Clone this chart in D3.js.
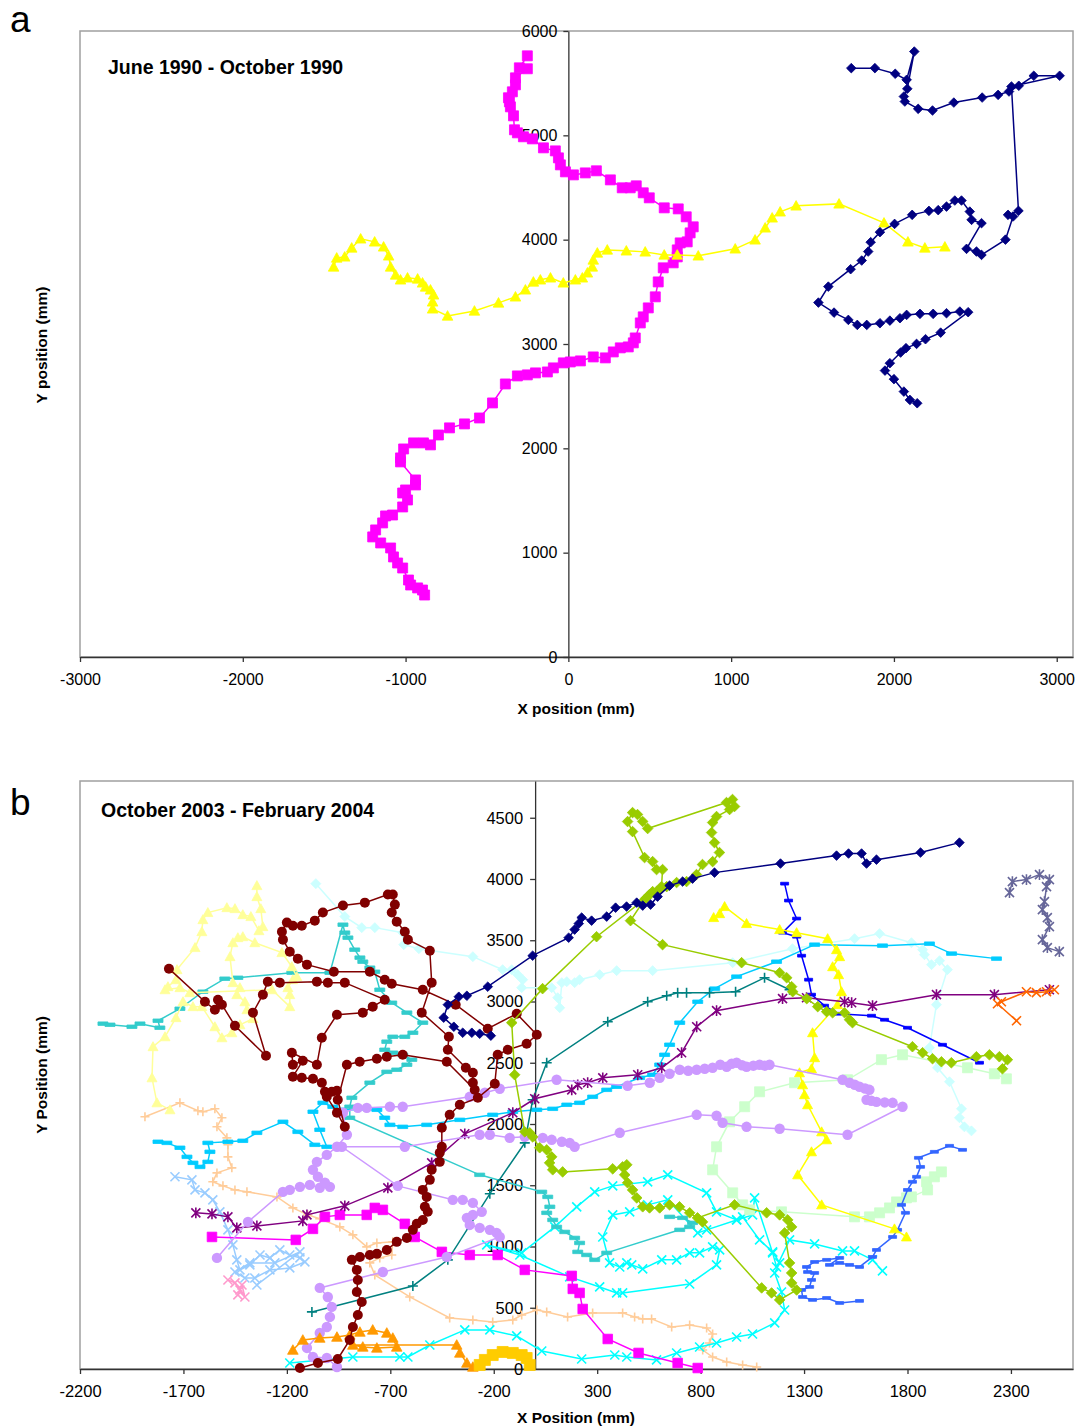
<!DOCTYPE html>
<html>
<head>
<meta charset="utf-8">
<script src="https://cdn.jsdelivr.net/npm/d3@7.9.0/dist/d3.min.js"></script>
<style>
  body { margin: 0; background: #fff; font-family: "Liberation Sans", Arial, sans-serif; }
</style>
</head>
<body>
<svg id="chart" width="1080" height="1428"></svg>
<script>
// ---- panel a: June 1990 - October 1990 ----
const xTicksA = [-3000, -2000, -1000, 0, 1000, 2000, 3000];
const yTicksA = [0, 1000, 2000, 3000, 4000, 5000, 6000];

const aMagenta = [[-252,5762],[-301,5647],[-252,5638],[-325,5551],[-325,5484],[-344,5417],[-368,5360],[-362,5321],[-356,5273],[-337,5187],[-331,5053],[-313,5024],[-276,4986],[-221,4966],[-153,4880],[-80,4851],[-61,4784],[-49,4717],[-18,4650],[31,4621],[104,4640],[172,4660],[258,4573],[331,4497],[380,4497],[417,4516],[460,4449],[497,4401],[589,4305],[675,4295],[724,4219],[767,4123],[748,4065],[730,3979],[687,3969],[669,3902],[669,3835],[644,3778],[583,3730],[552,3595],[534,3452],[491,3346],[460,3260],[442,3202],[411,3058],[399,3011],[368,2972],[319,2963],[276,2924],[227,2867],[153,2876],[74,2838],[12,2828],[-31,2819],[-92,2771],[-129,2732],[-202,2723],[-252,2704],[-313,2694],[-387,2617],[-466,2435],[-546,2291],[-638,2234],[-730,2196],[-798,2128],[-847,2033],[-890,2052],[-951,2052],[-1012,1994],[-1031,1908],[-1031,1870],[-939,1697],[-939,1649],[-1000,1601],[-1018,1572],[-988,1505],[-1018,1438],[-1080,1361],[-1123,1352],[-1141,1285],[-1184,1218],[-1202,1151],[-1153,1093],[-1092,1045],[-1074,959],[-1049,901],[-1018,853],[-982,738],[-969,690],[-926,662],[-896,642],[-883,594]];

const aYellow = [[-1442,3739],[-1423,3825],[-1374,3835],[-1331,3921],[-1276,4008],[-1190,3979],[-1135,3931],[-1104,3845],[-1092,3739],[-1061,3662],[-1031,3615],[-988,3634],[-926,3624],[-896,3586],[-877,3547],[-847,3519],[-828,3471],[-834,3404],[-834,3337],[-742,3269],[-577,3317],[-429,3394],[-325,3452],[-264,3519],[-215,3595],[-172,3615],[-110,3634],[-31,3586],[43,3615],[86,3634],[117,3682],[147,3739],[153,3806],[178,3873],[239,3902],[356,3893],[472,3883],[589,3854],[669,3854],[798,3845],[1025,3912],[1147,3998],[1209,4113],[1252,4209],[1301,4267],[1399,4324],[1663,4343],[1939,4161],[2086,3979],[2190,3921],[2313,3931]];

const aNavy = [[1738,5644],[1883,5644],[2008,5590],[2078,5532],[2125,5803],[2082,5446],[2061,5372],[2067,5324],[2149,5254],[2237,5238],[2368,5314],[2542,5362],[2640,5388],[2707,5420],[2767,5475],[2859,5571],[3018,5571],[2722,5468],[2765,4276],[2701,4238],[2732,4222],[2685,4000],[2538,3854],[2507,3886],[2446,3912],[2538,4158],[2477,4190],[2466,4269],[2415,4375],[2374,4375],[2323,4317],[2272,4283],[2215,4276],[2112,4238],[2004,4151],[1914,4072],[1857,3976],[1842,3886],[1802,3800],[1734,3717],[1597,3550],[1536,3397],[1632,3301],[1720,3231],[1775,3183],[1833,3183],[1914,3199],[1975,3224],[2037,3247],[2078,3279],[2160,3289],[2241,3289],[2323,3295],[2405,3311],[2456,3305],[2287,3109],[2194,3046],[2139,3001],[2074,2960],[2041,2918],[1975,2816],[1945,2745],[2000,2663],[2061,2544],[2098,2464],[2143,2432]];

// ---- panel b: October 2003 - February 2004 ----
const xTicksB = [-2200, -1700, -1200, -700, -200, 300, 800, 1300, 1800, 2300];
const yTicksB = [0, 500, 1000, 1500, 2000, 2500, 3000, 3500, 4000, 4500];

const bNavy = [[-214,2721],[-268,2737],[-306,2745],[-350,2745],[-393,2794],[-442,2868],[-422,2974],[-369,3039],[-330,3047],[-229,3121],[-12,3374],[162,3521],[191,3587],[211,3636],[225,3685],[273,3660],[346,3693],[389,3766],[442,3775],[491,3807],[520,3783],[558,3791],[592,3856],[650,3946],[713,3979],[761,4003],[867,4052],[1186,4126],[1457,4191],[1515,4208],[1578,4208],[1602,4126],[1650,4158],[1863,4216],[2051,4297]];

const bYellowGreen = [[2259,2451],[2283,2525],[2244,2549],[2196,2565],[2133,2549],[2012,2500],[1964,2508],[1921,2533],[1873,2582],[1824,2631],[1534,2827],[1520,2851],[1496,2908],[1438,2908],[1409,2917],[1366,2958],[1313,3023],[1245,3080],[1240,3121],[1216,3194],[1182,3235],[998,3317],[616,3464],[461,3660],[529,3832],[553,3873],[587,3897],[611,3938],[616,4077],[587,4077],[568,4142],[529,4175],[471,4387],[447,4469],[471,4542],[495,4526],[520,4469],[544,4412],[925,4624],[954,4649],[964,4592],[940,4567],[877,4510],[858,4461],[853,4379],[867,4297],[891,4216],[858,4142],[809,4118],[780,4036],[732,3979],[684,3971],[636,3938],[602,3913],[568,3897],[539,3848],[297,3529],[36,3105],[-113,2827],[-99,2402],[-50,1936],[-26,1928],[-12,1895],[22,1806],[56,1789],[80,1732],[70,1683],[85,1626],[133,1609],[375,1634],[423,1650],[443,1667],[433,1585],[447,1520],[471,1462],[491,1397],[520,1324],[553,1315],[602,1315],[650,1340],[698,1324],[747,1275],[785,1234],[964,1340],[1119,1275],[1182,1258],[1221,1217],[1240,1160],[1206,1111],[1230,866],[1240,784],[1240,703],[1264,645],[1182,564],[1143,621],[1095,662],[809,1201]];

const bDarkRed = [[-1137,8],[-1050,49],[-954,82],[-896,237],[-881,343],[-857,441],[-838,547],[-862,629],[-857,727],[-862,809],[-886,891],[-847,915],[-799,931],[-765,940],[-717,972],[-669,1038],[-620,1070],[-591,1136],[-572,1185],[-543,1217],[-519,1283],[-533,1324],[-524,1405],[-543,1462],[-509,1544],[-500,1626],[-461,1691],[-461,1765],[-451,1814],[-451,1969],[-413,2075],[-364,2157],[-277,2214],[-195,2328],[-181,2565],[-132,2606],[-41,2655],[8,2729],[-89,2900],[-229,2778],[-384,2974],[-543,3096],[-693,3145],[-727,3178],[-799,3243],[-973,3243],[-1103,3301],[-1147,3350],[-1186,3407],[-1219,3505],[-1224,3570],[-1200,3644],[-1171,3619],[-1128,3619],[-1065,3660],[-1026,3726],[-929,3783],[-823,3807],[-712,3873],[-688,3873],[-678,3791],[-693,3726],[-669,3652],[-630,3570],[-615,3505],[-509,3415],[-500,3154],[-548,2909],[-417,2712],[-422,2606],[-335,2459],[-301,2418],[-301,2337],[-292,2279],[-427,2508],[-640,2565],[-717,2549],[-765,2533],[-848,2508],[-910,2484],[-954,2198],[-920,1977],[-958,2092],[-1007,2222],[-958,2271],[-983,2263],[-1016,2263],[-1031,2337],[-1074,2369],[-1128,2377],[-1171,2386],[-1123,2516],[-1171,2484],[-1176,2582],[-1055,2484],[-1031,2704],[-958,2892],[-833,2909],[-785,2958],[-727,3015],[-920,3154],[-1002,3154],[-1055,3162],[-1234,3154],[-1292,3162],[-1316,3056],[-1364,2909],[-1301,2557],[-1451,2802],[-1514,2974],[-1533,3015],[-1548,2933],[-1596,2998],[-1770,3268]];

const bLightYellow = [[-1765,2116],[-1828,2173],[-1852,2377],[-1847,2631],[-1789,2712],[-1736,2868],[-1702,2998],[-1654,2958],[-1611,2958],[-1548,2794],[-1514,2704],[-1466,2745],[-1427,2810],[-1364,2860],[-1393,2933],[-1403,2998],[-1442,3056],[-1427,3113],[-1461,3154],[-1475,3366],[-1461,3480],[-1437,3521],[-1413,3529],[-1355,3480],[-1224,3399],[-1176,3284],[-1152,3203],[-1171,3178],[-1195,3113],[-1186,3056],[-1186,2958],[-1272,3096],[-1669,3072],[-1717,3113],[-1789,3096],[-1775,3121],[-1736,3178],[-1731,3260],[-1644,3440],[-1611,3570],[-1606,3668],[-1582,3726],[-1490,3766],[-1451,3758],[-1413,3709],[-1374,3693],[-1335,3578],[-1316,3611],[-1326,3758],[-1345,3856],[-1345,3946]];

const bTurquoise = [[-2089,2819],[-2055,2810],[-1949,2794],[-1910,2819],[-1814,2786],[-1823,2843],[-1717,2941],[-1606,3080],[-1500,3186],[-1437,3194],[-1176,3235],[-992,3235],[-929,3627],[-920,3562],[-905,3521],[-872,3423],[-847,3358],[-833,3325],[-799,3276],[-775,3243],[-751,3096],[-693,2990],[-620,2909],[-543,2827],[-591,2745],[-630,2712],[-688,2712],[-717,2672],[-727,2606],[-688,2582],[-640,2565],[-596,2525],[-620,2484],[-669,2443],[-717,2426],[-799,2337],[-886,2214],[-896,2141],[-896,2051],[-268,1585],[32,1446],[61,1405],[71,1324],[56,1275],[85,1217],[104,1160],[143,1119],[191,1070],[215,1029],[206,956],[249,931],[288,891],[346,948],[699,1136],[747,1160],[761,1193],[713,1234],[650,1242]];

const bLightCyan = [[-1060,3962],[-920,3693],[-838,3603],[-775,3603],[-640,3562],[-635,3464],[-562,3431],[-301,3366],[-157,3260],[-113,3260],[-84,3219],[-60,3178],[-65,3113],[80,3113],[109,3031],[119,2949],[129,3154],[153,3162],[191,3154],[215,3178],[312,3219],[394,3252],[568,3252],[955,3317],[1244,3431],[1544,3513],[1665,3554],[1819,3480],[1873,3423],[1882,3382],[1916,3301],[1955,3333],[1993,3260],[1940,2974],[1906,2623],[1945,2459],[2003,2345],[2061,2124],[2051,2051],[2075,1977],[2109,1944]];

const bYellow = [[863,3685],[892,3717],[916,3775],[1022,3636],[1182,3587],[1264,3562],[1414,3513],[1457,3423],[1472,3366],[1438,3284],[1467,3219],[1481,3080],[1462,2974],[1341,2745],[1351,2541],[1336,2451],[1278,2418],[1293,2320],[1302,2239],[1317,2157],[1385,1936],[1409,1871],[1336,1773],[1269,1585],[1385,1340],[1737,1144],[1795,1078]];

const bBlue = [[1206,3962],[1225,3824],[1264,3677],[1196,3562],[1264,3529],[1288,3374],[1322,3178],[1336,3056],[1399,2966],[1462,2900],[1626,2884],[1689,2851],[1800,2786],[1969,2647],[2148,2500]];

const bRoyalBlue = [[2066,1789],[2003,1822],[1930,1773],[1853,1724],[1863,1650],[1844,1569],[1824,1528],[1800,1462],[1771,1340],[1790,1275],[1752,1136],[1728,1078],[1650,972],[1631,915],[1568,833],[1520,850],[1472,866],[1423,850],[1472,907],[1409,891],[1351,874],[1312,833],[1317,792],[1351,784],[1336,727],[1327,670],[1288,645],[1293,588],[1341,564],[1409,580],[1472,539],[1568,556]];

const bPurple = [[-1640,1275],[-1562,1266],[-1485,1242],[-1442,1152],[-1345,1168],[-1123,1209],[-1103,1258],[-920,1332],[-712,1479],[-500,1683],[-340,1920],[-108,2092],[-2,2206],[177,2279],[206,2320],[254,2337],[327,2377],[496,2402],[612,2459],[708,2582],[781,2794],[877,2925],[1196,3023],[1312,3031],[1496,2998],[1530,2990],[1631,2966],[1940,3056],[2220,3056],[2486,3096]];

const bLavender = [[-1538,907],[-1388,1201],[-1219,1446],[-1186,1462],[-1137,1487],[-1089,1503],[-1041,1479],[-992,1487],[-1016,1520],[-1050,1569],[-1074,1626],[-1055,1691],[-1007,1748],[-958,1814],[-910,1912],[-929,2092],[-857,2132],[-814,2132],[-702,2141],[-640,2141],[-316,2222],[-243,2255],[-171,2288],[104,2361],[447,2312],[554,2337],[602,2377],[650,2410],[699,2443],[740,2435],[781,2443],[820,2451],[858,2459],[895,2484],[926,2467],[950,2492],[974,2500],[1000,2480],[1022,2467],[1055,2476],[1085,2484],[1110,2476],[1133,2484],[1486,2361],[1520,2337],[1545,2320],[1568,2304],[1595,2290],[1616,2279],[1602,2198],[1625,2190],[1650,2181],[1690,2176],[1728,2173],[1776,2141],[1510,1912],[1182,1961],[1022,1977],[906,2010],[877,2067],[781,2075],[409,1928],[191,1814],[167,1846],[129,1855],[80,1871],[37,1887],[-50,1895],[-123,1887],[-219,1912],[-268,1912],[-630,1814],[-934,1814],[-664,1495],[-398,1381],[-350,1381],[-301,1356],[-258,1283],[-301,1258],[-330,1234],[-316,1176],[-268,1152],[-219,1136],[-186,1111],[-171,1078],[-427,915],[-736,792],[-1041,662],[-1002,588],[-983,507],[-992,425],[-1007,343],[-1041,294],[-1103,172],[-1074,98],[-1007,90],[-958,16]];

const bMagenta = [[-1562,1078],[-1157,1054],[-1074,1144],[-1016,1242],[-944,1258],[-814,1258],[-775,1315],[-736,1299],[-630,1185],[-582,1078],[-451,956],[-316,931],[-181,931],[-50,809],[177,760],[182,654],[215,621],[230,490],[351,245],[500,131],[689,49],[786,8]];

const bTeal = [[-1079,466],[-591,678],[-422,891],[-219,1430],[-50,1846],[-12,2198],[56,2500],[351,2835],[544,2998],[636,3047],[689,3072],[732,3072],[843,3072],[969,3080],[1109,3194],[1230,3096]];

const bSkyBlue = [[-1823,1855],[-1780,1846],[-1717,1806],[-1683,1732],[-1654,1683],[-1620,1650],[-1582,1691],[-1572,1773],[-1582,1846],[-1485,1855],[-1413,1863],[-1345,1928],[-1219,2018],[-1147,1936],[-1065,1830],[-1007,1814],[-1041,1953],[-1074,2100],[-1026,2173],[-978,2141],[-944,2116],[-765,2116],[-727,2051],[-702,1993],[-640,1977],[-524,1993],[-364,2034],[-205,2075],[-108,2100],[8,2116],[85,2124],[153,2157],[215,2173],[278,2222],[346,2279],[394,2304],[505,2377],[568,2402],[602,2484],[626,2565],[650,2647],[699,2827],[786,2998],[868,3105],[974,3203],[1167,3325],[1351,3464],[1679,3456],[1906,3472],[2013,3391],[2230,3350]];

const bCyan = [[-1186,49],[-881,98],[-654,98],[-615,98],[-509,196],[-340,319],[-219,319],[-89,270],[32,147],[225,82],[385,114],[443,98],[587,74],[684,131],[795,180],[877,212],[974,261],[1051,286],[1158,376],[1206,482],[1191,629],[1158,784],[1182,866],[1148,956],[1085,1054],[1003,1242],[974,1217],[877,1283],[829,1438],[641,1585],[544,1528],[375,1495],[288,1446],[201,1324],[95,1160],[-65,948],[-234,1013],[-74,931],[167,752],[312,670],[394,621],[423,621],[747,694],[877,850],[892,972],[858,997],[795,948],[747,948],[684,891],[612,891],[520,817],[467,850],[443,866],[409,833],[360,866],[327,1078],[375,1258],[457,1283],[544,1340],[641,1381],[786,1111],[829,1136],[974,1217],[1051,1258],[1061,1397],[1148,948],[1167,833],[1230,1054],[1351,1021],[1486,964],[1544,964],[1631,891],[1679,801]];

const bPeach = [[-1886,2059],[-1717,2173],[-1630,2108],[-1606,2100],[-1548,2124],[-1514,2051],[-1538,1977],[-1490,1887],[-1485,1830],[-1485,1732],[-1466,1642],[-1538,1601],[-1558,1528],[-1509,1495],[-1451,1462],[-1393,1446],[-1248,1405],[-1171,1315],[-1099,1258],[-1041,1226],[-944,1160],[-881,1095],[-814,997],[-765,1029],[-688,1038],[-693,931],[-751,907],[-799,866],[-775,768],[-606,588],[-413,417],[-301,400],[-205,384],[-108,400],[-65,441],[8,482],[56,466],[157,425],[278,458],[423,458],[481,425],[520,409],[563,409],[660,343],[747,359],[829,335],[858,286],[843,212],[810,155],[858,98],[926,57],[1003,33],[1071,16]];

const bMint = [[2278,2369],[2220,2410],[2090,2459],[1776,2565],[1674,2525],[1510,2361],[1254,2337],[1085,2263],[1013,2141],[940,2018],[877,1814],[858,1626],[955,1438],[1003,1340],[1037,1299],[1191,1283],[1544,1242],[1616,1242],[1665,1275],[1713,1315],[1747,1364],[1795,1397],[1819,1405],[1897,1462],[1892,1528],[1930,1569],[1964,1609]];

const bOrange = [[-1171,155],[-1123,237],[-1041,253],[-958,261],[-896,278],[-847,302],[-785,319],[-717,294],[-688,253],[-669,180],[-765,172],[-833,180],[-881,196],[-379,196],[-364,131],[-330,49],[-301,16]];

const bGold = [[-268,33],[-243,74],[-205,114],[-157,139],[-108,131],[-65,114],[-41,90],[-26,33]];

const bPaleBlue = [[-1741,1569],[-1659,1544],[-1644,1462],[-1596,1438],[-1558,1381],[-1524,1283],[-1485,1136],[-1461,1013],[-1442,891],[-1427,809],[-1379,850],[-1330,931],[-1282,907],[-1234,972],[-1186,931],[-1137,907],[-1113,874],[-1186,825],[-1282,809],[-1355,743],[-1403,743],[-1451,792],[-1379,866],[-1258,866],[-1137,956],[-1345,686]];

const bPink = [[-1485,727],[-1451,703],[-1427,645],[-1403,588],[-1417,686],[-1437,605]];

const bSlate = [[2293,3889],[2307,3979],[2375,3995],[2438,4036],[2486,3995],[2472,3938],[2462,3815],[2452,3750],[2476,3685],[2486,3611],[2452,3505],[2476,3440],[2534,3407]];

const bOrangeRed = [[2327,2843],[2235,2982],[2254,2998],[2375,3080],[2423,3072],[2472,3080],[2510,3096]];

// ---- drawing ----
const svg = d3.select("#chart");
const fmt = d => String(d);

function markerPath(shape, s) {
  switch (shape) {
    case "square": return `M${-s},${-s}H${s}V${s}H${-s}Z`;
    case "diamond": return `M0,${-s}L${s},0L0,${s}L${-s},0Z`;
    case "triangle": return `M0,${-s}L${s},${s * 0.8}L${-s},${s * 0.8}Z`;
    case "x": return `M${-s},${-s}L${s},${s}M${-s},${s}L${s},${-s}`;
    case "star": return `M${-s},${-s}L${s},${s}M${-s},${s}L${s},${-s}M0,${-s * 1.2}V${s * 1.2}`;
    case "plus": return `M${-s},0H${s}M0,${-s}V${s}`;
    case "dash": return `M${-s},${-s * 0.35}H${s}V${s * 0.35}H${-s}Z`;
  }
}

function drawPanel(p) {
  const x = d3.scaleLinear().domain(p.xDomain).range([80, 1073]);
  const y = d3.scaleLinear().domain(p.yDomain).range([p.bottom, p.top]);

  svg.append("rect")
    .attr("x", 80).attr("y", p.top)
    .attr("width", 993).attr("height", p.bottom - p.top)
    .attr("fill", "#fff").attr("stroke", "#a0a0a0").attr("stroke-width", 1.5);

  const gx = svg.append("g")
    .attr("transform", `translate(0,${p.bottom})`)
    .call(d3.axisBottom(x).tickValues(p.xTicks).tickSize(5).tickSizeOuter(0).tickPadding(p.xPad).tickFormat(fmt));
  const gy = svg.append("g")
    .attr("transform", `translate(${x(0)},0)`)
    .call(d3.axisLeft(y).tickValues(p.yTicks).tickSize(5).tickSizeOuter(0).tickPadding(p.yPad).tickFormat(fmt));
  [gx, gy].forEach(g => {
    g.selectAll("path.domain").attr("stroke", "#333").attr("stroke-width", 1.3);
    g.selectAll(".tick line").attr("stroke", "#333").attr("stroke-width", 1.3);
    g.selectAll("text").attr("font-family", "Liberation Sans, Arial, sans-serif")
      .attr("font-size", p.fontSize).attr("fill", "#000");
  });

  p.series.forEach(s => {
    const line = d3.line().x(d => x(d[0])).y(d => y(d[1]));
    svg.append("path").attr("d", line(s.data))
      .attr("fill", "none").attr("stroke", s.color).attr("stroke-width", 1.5);
    if (s.shape === "circle") {
      svg.append("g").selectAll("circle").data(s.data).join("circle")
        .attr("cx", d => x(d[0])).attr("cy", d => y(d[1])).attr("r", s.size)
        .attr("fill", s.color);
      return;
    }
    const open = ["x", "star", "plus"].includes(s.shape);
    svg.append("g").selectAll("path").data(s.data).join("path")
      .attr("transform", d => `translate(${x(d[0])},${y(d[1])})`)
      .attr("d", markerPath(s.shape, s.size))
      .attr("fill", open ? "none" : s.color)
      .attr("stroke", s.color).attr("stroke-width", open ? 1.6 : 0.8);
  });

  svg.append("text").attr("x", p.titleX).attr("y", p.titleY)
    .attr("font-size", 19.5).attr("font-weight", "bold").text(p.title);
  svg.append("text").attr("x", 10).attr("y", p.letterY)
    .attr("font-size", 37).text(p.letter);
  svg.append("text").attr("x", 576).attr("y", p.xLabelY).attr("text-anchor", "middle")
    .attr("font-size", 15.5).attr("font-weight", "bold").text(p.xLabel);
  svg.append("text").attr("transform", `translate(47,${p.yLabelC}) rotate(-90)`)
    .attr("text-anchor", "middle").attr("font-size", 15.5).attr("font-weight", "bold").text(p.yLabel);
}

drawPanel({
  xDomain: [-3000, 3100], yDomain: [0, 6000], top: 31, bottom: 657,
  xTicks: xTicksA, yTicks: yTicksA, xPad: 12, yPad: 6, fontSize: 16,
  title: "June 1990 - October 1990", titleX: 108, titleY: 74,
  letter: "a", letterY: 32,
  xLabel: "X position (mm)", xLabelY: 714, yLabel: "Y position (mm)", yLabelC: 345,
  series: [
    { data: aMagenta, color: "#ff00ff", shape: "square", size: 5 },
    { data: aYellow, color: "#ffff00", shape: "triangle", size: 5.3 },
    { data: aNavy, color: "#000080", shape: "diamond", size: 4.8 }
  ]
});

drawPanel({
  xDomain: [-2200, 2600], yDomain: [0, 4800], top: 781, bottom: 1369,
  xTicks: xTicksB, yTicks: yTicksB, xPad: 11, yPad: 7, fontSize: 16.5,
  title: "October 2003 - February 2004", titleX: 101, titleY: 817,
  letter: "b", letterY: 815,
  xLabel: "X Position (mm)", xLabelY: 1423, yLabel: "Y Position (mm)", yLabelC: 1075,
  series: [
    { data: bPaleBlue, color: "#99ccff", shape: "x", size: 4.5 },
    { data: bPink, color: "#ff99cc", shape: "x", size: 4.5 },
    { data: bPeach, color: "#ffcc99", shape: "plus", size: 4.5 },
    { data: bCyan, color: "#00ffff", shape: "x", size: 4.5 },
    { data: bTurquoise, color: "#33cccc", shape: "dash", size: 5 },
    { data: bMint, color: "#ccffcc", shape: "square", size: 5 },
    { data: bLightCyan, color: "#ccffff", shape: "diamond", size: 5 },
    { data: bSkyBlue, color: "#00ccff", shape: "dash", size: 5 },
    { data: bBlue, color: "#0000ff", shape: "dash", size: 4 },
    { data: bRoyalBlue, color: "#3366ff", shape: "dash", size: 4 },
    { data: bYellow, color: "#ffff00", shape: "triangle", size: 5 },
    { data: bLightYellow, color: "#ffff99", shape: "triangle", size: 5 },
    { data: bMagenta, color: "#ff00ff", shape: "square", size: 4.8 },
    { data: bTeal, color: "#008080", shape: "plus", size: 5 },
    { data: bPurple, color: "#800080", shape: "star", size: 4.5 },
    { data: bLavender, color: "#cc99ff", shape: "circle", size: 5.2 },
    { data: bOrange, color: "#ff9900", shape: "triangle", size: 5.3 },
    { data: bGold, color: "#ffcc00", shape: "square", size: 5.5 },
    { data: bDarkRed, color: "#800000", shape: "circle", size: 5 },
    { data: bYellowGreen, color: "#99cc00", shape: "diamond", size: 5.3 },
    { data: bNavy, color: "#000080", shape: "diamond", size: 4.8 },
    { data: bSlate, color: "#666699", shape: "star", size: 4.5 },
    { data: bOrangeRed, color: "#ff6600", shape: "x", size: 4.5 }
  ]
});
</script>
</body>
</html>
